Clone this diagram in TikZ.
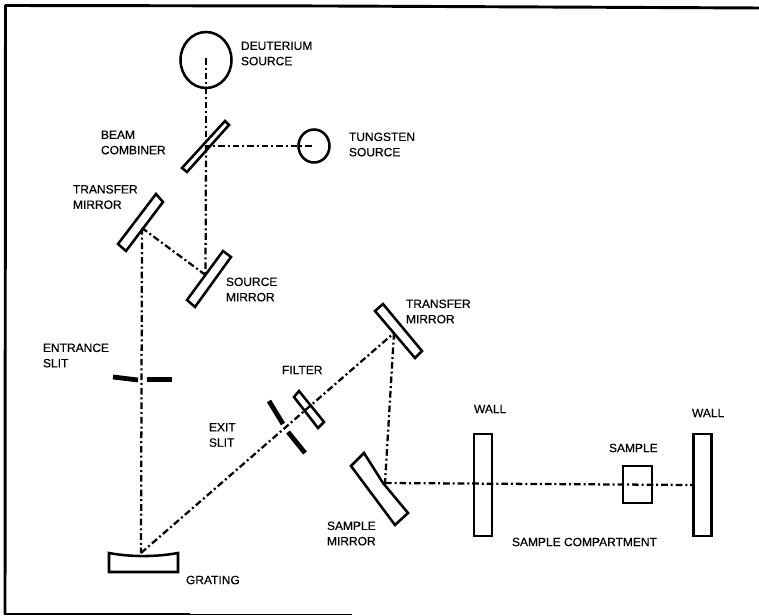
\documentclass[tikz,border=0pt]{standalone}
\usepackage{fontspec}
\setmainfont{Liberation Sans}
\newfontfamily\lblfont[FakeBold=0.35]{Liberation Sans}
\usetikzlibrary{shapes.geometric}
\tikzset{
  outline/.style={line width=1.9pt,black,line join=miter},
  beam/.style={line width=1.7pt,black,dash pattern=on 5pt off 2.2pt on 1.5pt off 2.2pt},
  lbl/.style={font=\lblfont\fontsize{9pt}{11.5pt}\selectfont,align=left,anchor=west,inner sep=0pt,outer sep=0pt,text=black},
  slit/.style={line width=3.6pt,black},
  lamp/.style={draw,outline,ellipse,inner sep=0pt},
  wallbox/.style={draw,outline,rectangle,inner sep=0pt,minimum width=18*0.75pt,minimum height=102*0.75pt},
}
\begin{document}
\begin{tikzpicture}[x=0.75pt,y=-0.75pt]
\useasboundingbox (0,0) rectangle (759,616);
\fill[white] (0,0) rectangle (759,616);
% frame
\draw[line width=2.2pt] (5,5.5) -- (330,6) -- (759,8);
\draw[line width=2.2pt] (5.5,5) -- (5,614);
\draw[line width=2.2pt] (4,614) -- (190,614);
\draw[line width=0.8pt] (190,614.5) -- (352,614.5);
% lamps
\node[lamp,minimum width=51*0.75pt,minimum height=56*0.75pt] (deut) at (206,60) {};
\node[lamp,minimum width=31*0.75pt,minimum height=33*0.75pt] (tung) at (314,146) {};
% mirrors
\draw[outline] (225,121) -- (229,125) -- (187,172) -- (182,168) -- cycle;
\draw[outline] (156,194) -- (163,202) -- (126,251) -- (118,244) -- cycle;
\draw[outline] (223,251) -- (231,257) -- (195,307) -- (187,300) -- cycle;
\draw[outline] (383,304) -- (375,311) -- (415,358) -- (422,351) -- cycle;
\draw[outline] (299,391) -- (294,397) -- (318,428) -- (324,422) -- cycle;
\draw[outline] (364,453) -- (383,483) -- (408,513) -- (395,525) -- (351,466) -- cycle;
\draw[outline] (109,553) .. controls (125,556) and (150,558) .. (178,553) -- (178,572) -- (109,572) -- cycle;
% slits
\draw[slit] (113,377) -- (138,380);
\draw[slit] (147,379.5) -- (172,379.5);
\draw[slit] (269,401) -- (283,424);
\draw[slit] (288,432) -- (305,453);
% walls and sample
\node[wallbox] (wallA) at (483,485) {};
\node[wallbox] (wallB) at (702.5,485) {};
\node[draw,outline,rectangle,inner sep=0pt,minimum width=29*0.75pt,minimum height=37*0.75pt] (samp) at (637.5,484.5) {};
% beam points
\coordinate (lampD) at (206,58);
\coordinate (lampT) at (312,146);
\coordinate (comb) at (206,146);
\coordinate (srcM) at (205.5,275);
\coordinate (trA) at (142,228);
\coordinate (grat) at (141,553);
\coordinate (trB) at (394,333);
\coordinate (smpM) at (385,483);
\coordinate (wallEnd) at (694,485);
% beams
\draw[beam] (lampD) -- (comb);
\draw[beam] (comb) -- (srcM);
\draw[beam] (lampT) -- (comb);
\draw[beam] (srcM) -- (trA);
\draw[beam] (trA) -- (grat);
\draw[beam] (grat) -- (trB);
\draw[beam] (trB) -- (smpM);
\draw[beam] (smpM) -- (wallEnd);
% labels
\node[lbl] (l1) at (241,53.5) {DEUTERIUM\\SOURCE};
\node[lbl] (l2) at (349,144.5) {TUNGSTEN\\SOURCE};
\node[lbl] (l3) at (101,142.5) {BEAM\\COMBINER};
\node[lbl] (l4) at (73,197) {TRANSFER\\MIRROR};
\node[lbl] (l5) at (226,289.5) {SOURCE\\MIRROR};
\node[lbl] (l6) at (406,311.5) {TRANSFER\\MIRROR};
\node[lbl] (l7) at (43,355.5) {ENTRANCE\\SLIT};
\node[lbl] (l8) at (282,370) {FILTER};
\node[lbl] (l9) at (209,435) {EXIT\\SLIT};
\node[lbl] (l10) at (327,533.5) {SAMPLE\\MIRROR};
\node[lbl] (l11) at (186,580) {GRATING};
\node[lbl] (l12) at (474,409) {WALL};
\node[lbl] (l13) at (692,413) {WALL};
\node[lbl] (l14) at (609,448) {SAMPLE};
\node[lbl] (l15) at (512,542) {SAMPLE COMPARTMENT};
\end{tikzpicture}
\end{document}
